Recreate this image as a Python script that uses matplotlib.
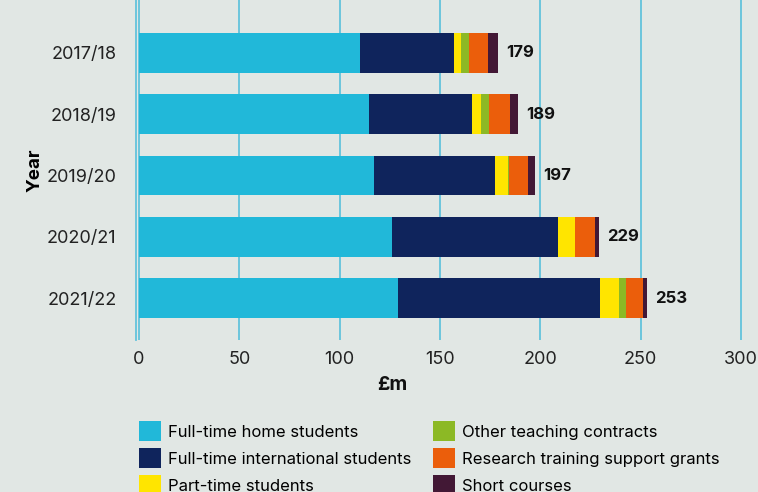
import numpy as np
import matplotlib.pyplot as plt
from matplotlib.patches import Patch

years = ["2017/18", "2018/19", "2019/20", "2020/21", "2021/22"]
totals = [179, 189, 197, 229, 253]
home = [110.0, 114.4, 117.0, 126.0, 129.0]
intl = [47.0, 51.7, 60.2, 83.0, 100.6]
part_time = [3.7, 4.1, 6.8, 8.3, 9.5]
other = [3.6, 4.0, 0.2, 0.2, 3.4]
research = [9.8, 10.5, 9.7, 10.0, 8.5]
short = [4.9, 4.3, 3.5, 1.8, 2.2]

series = [
    ("Full-time home students", home, "#21b8d9"),
    ("Full-time international students", intl, "#0f245c"),
    ("Part-time students", part_time, "#ffe500"),
    ("Other teaching contracts", other, "#8cb925"),
    ("Research training support grants", research, "#eb5e0b"),
    ("Short courses", short, "#421835"),
]

bg = "#e1e7e4"
grid_col = "#62c3dc"
plt.rcParams["font.family"] = ["Inter", "DejaVu Sans"]

fig = plt.figure(figsize=(7.58, 4.92), dpi=100, facecolor=bg)
ax = fig.add_axes([136 / 758, 152 / 492, 622 / 758, 340 / 492], facecolor=bg)

y = np.arange(len(years))
left = np.zeros(len(years))
handles = []
for name, vals, col in series:
    vals = np.array(vals)
    ax.barh(y, vals, left=left, height=0.65, color=col, zorder=3)
    left += vals
    handles.append(Patch(facecolor=col, label=name))

for yi, t, l in zip(y, totals, left):
    ax.text(l + 4, yi, str(t), va="center", ha="left", fontsize=12,
            fontweight="bold", color="#111111", zorder=4)

ax.set_xlim(-1.5, 308.5)
ax.set_ylim(4.685, -0.865)
ax.set_xticks(np.arange(0, 301, 50))
ax.set_yticks(y)
ax.set_yticklabels(years)
ax.grid(axis="x", color=grid_col, linewidth=1.3, zorder=1)
ax.tick_params(axis="both", length=0, labelsize=13, colors="#222222")
ax.tick_params(axis="x", pad=8)
ax.tick_params(axis="y", pad=14)
for s in ["top", "right", "bottom"]:
    ax.spines[s].set_visible(False)
ax.spines["left"].set_color(grid_col)
ax.spines["left"].set_linewidth(1.3)

ax.set_ylabel("Year", fontsize=13.5, fontweight="bold", labelpad=2)
fig.text(392 / 758, 1 - 385 / 492, "£m", ha="center", va="center",
         fontsize=14, fontweight="bold", color="#111111")

fig.legend(handles=handles, ncol=2, loc="upper left",
           bbox_to_anchor=(124 / 758, 1 - 406 / 492), frameon=False,
           fontsize=12, handlelength=1.3, handleheight=1.5,
           handletextpad=0.45, columnspacing=1.3, labelspacing=0.4)

fig.savefig("out.png", dpi=100, facecolor=bg)
